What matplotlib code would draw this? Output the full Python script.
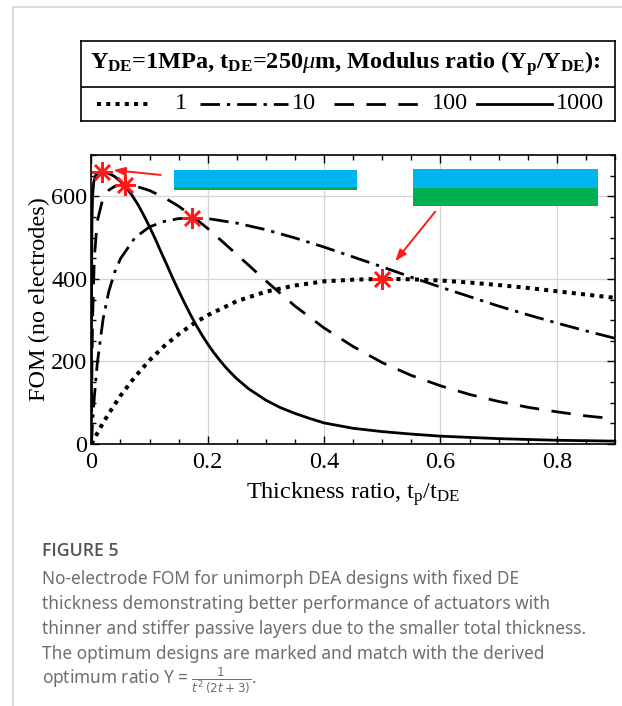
import matplotlib
matplotlib.use("Agg")
import matplotlib.pyplot as plt
from matplotlib.patches import Rectangle
from matplotlib.lines import Line2D
from matplotlib.ticker import MultipleLocator

plt.rcParams['font.family'] = ['Liberation Serif', 'DejaVu Serif']
plt.rcParams['mathtext.fontset'] = 'custom'
plt.rcParams['mathtext.rm'] = 'Liberation Serif'
plt.rcParams['mathtext.it'] = 'Liberation Serif:italic'
plt.rcParams['mathtext.bf'] = 'Liberation Serif:bold'

# FOM (no electrodes) vs thickness ratio t_p/t_DE
t_r1 = [0, 0.01, 0.02, 0.035, 0.05, 0.075, 0.1, 0.125, 0.15, 0.175, 0.2, 0.25, 0.3, 0.35, 0.4,
        0.45, 0.5, 0.55, 0.6, 0.65, 0.7, 0.75, 0.8, 0.85, 0.9]
fom_r1 = [0, 26, 51, 85, 117, 163, 203, 237, 266, 291, 312, 346, 369, 384, 394,
          398, 400, 399, 396, 391, 385, 378, 370, 362, 354]

t_r10 = [0, 0.002, 0.005, 0.01, 0.02, 0.03, 0.04, 0.05, 0.075, 0.1, 0.125, 0.15, 0.175, 0.2,
         0.25, 0.3, 0.35, 0.4, 0.45, 0.5, 0.55, 0.6, 0.65, 0.7, 0.75, 0.8, 0.85, 0.9]
fom_r10 = [0, 50, 113, 194, 302, 370, 416, 449, 500, 526, 539, 546, 547, 546,
           535, 519, 499, 477, 453, 429, 404, 380, 357, 334, 313, 293, 274, 256]

t_r100 = [0, 0.001, 0.002, 0.005, 0.01, 0.02, 0.03, 0.04, 0.05, 0.06, 0.075, 0.1, 0.125, 0.15,
          0.175, 0.2, 0.25, 0.3, 0.35, 0.4, 0.45, 0.5, 0.55, 0.6, 0.65, 0.7, 0.75, 0.8, 0.85, 0.9]
fom_r100 = [0, 193, 300, 450, 539, 596, 615, 624, 627, 627, 625, 614, 597, 576,
            550, 522, 459, 395, 334, 281, 236, 197, 166, 141, 120, 103, 89, 78, 68, 61]

t_r1000 = [0, 0.0002, 0.0005, 0.001, 0.002, 0.004, 0.007, 0.01, 0.015, 0.02, 0.03, 0.04, 0.05,
           0.06, 0.07, 0.08, 0.09, 0.1, 0.11, 0.12, 0.13, 0.14, 0.15, 0.16, 0.17, 0.18, 0.19,
           0.2, 0.21, 0.22, 0.23, 0.24, 0.25, 0.27, 0.3, 0.325, 0.35, 0.375, 0.4, 0.45, 0.5,
           0.55, 0.6, 0.65, 0.7, 0.75, 0.8, 0.85, 0.9]
fom_r1000 = [0, 300, 450, 540, 600, 634, 650, 655, 659, 659, 655, 648, 636,
             621, 602, 580, 554, 526, 496, 464, 433, 401, 371, 342, 314, 288, 264,
             242, 222, 204, 187, 172, 158, 134, 106, 88, 74, 62, 51, 38, 30,
             24, 19, 16, 13, 11, 9, 8, 7]

# optimum designs (red stars)
opt_t = [0.5, 0.173, 0.057, 0.0175]
opt_fom = [400, 547, 627, 660]

ratio_labels = ['1', '10', '100', '1000']

styles = [
    dict(color='k', lw=2.9, ls=(0, (1, 1.3)), dash_capstyle='butt'),
    dict(color='k', lw=2.0, ls=(0, (7, 2.5, 1.2, 2.5))),
    dict(color='k', lw=2.0, ls=(0, (7, 4.5))),
    dict(color='k', lw=2.0, ls='-'),
]

fig = plt.figure(figsize=(6.22, 7.06), dpi=100)

ax = fig.add_axes([91.4 / 622, 1 - 444 / 706, 523.6 / 622, 289 / 706])
for t, f, st in zip([t_r1, t_r10, t_r100, t_r1000], [fom_r1, fom_r10, fom_r100, fom_r1000], styles):
    ax.plot(t, f, **st)

ax.plot(opt_t, opt_fom, ls='none', marker=(8, 2, 0), ms=15, mew=1.8, color='#ff1a1a', zorder=5)

# layer sketches
ax.add_patch(Rectangle((0.142, 622), 0.314, 41, color='#00b4ef', zorder=4, lw=0))
ax.add_patch(Rectangle((0.142, 614.5), 0.314, 7.5, color='#00b050', zorder=4, lw=0))
ax.add_patch(Rectangle((0.5536, 621), 0.318, 46, color='#00b4ef', zorder=4, lw=0))
ax.add_patch(Rectangle((0.5536, 576), 0.318, 45, color='#00b050', zorder=4, lw=0))

ax.annotate('', xy=(0.033, 664), xytext=(0.124, 651),
            arrowprops=dict(arrowstyle='-|>,head_length=0.7,head_width=0.25', color='#ff1a1a', lw=1.4))
ax.annotate('', xy=(0.519, 437), xytext=(0.594, 568),
            arrowprops=dict(arrowstyle='-|>,head_length=0.7,head_width=0.25', color='#ff1a1a', lw=1.4))

ax.set_xlim(0, 0.9)
ax.set_ylim(0, 700)
ax.xaxis.set_major_locator(MultipleLocator(0.2))
ax.xaxis.set_minor_locator(MultipleLocator(0.05))
ax.yaxis.set_major_locator(MultipleLocator(200))
ax.yaxis.set_minor_locator(MultipleLocator(50))
ax.set_xticks([0, 0.2, 0.4, 0.6, 0.8])
ax.set_xticklabels(['0', '0.2', '0.4', '0.6', '0.8'])
ax.grid(True, which='major', color='#d4d4d4', lw=0.9)
ax.set_axisbelow(True)
ax.tick_params(which='both', direction='in', top=True, right=True, labelsize=17.5, width=1)
ax.tick_params(axis='x', pad=6)
ax.tick_params(axis='y', pad=3)
ax.tick_params(which='major', length=6)
ax.tick_params(which='minor', length=3.5)
for sp in ax.spines.values():
    sp.set_linewidth(1.2)
ax.set_xlabel(r'Thickness ratio, t$_\mathregular{p}$/t$_\mathregular{DE}$', fontsize=17.5, labelpad=5)
ax.set_ylabel('FOM (no electrodes)', fontsize=17.5, labelpad=1)

# legend box
lax = fig.add_axes([80.7 / 622, 1 - 120.7 / 706, 534.3 / 622, 79.7 / 706])
lax.set_xlim(0, 1)
lax.set_ylim(0, 1)
lax.set_xticks([])
lax.set_yticks([])
for sp in lax.spines.values():
    sp.set_linewidth(1.2)
lax.axhline(0.427, color='k', lw=1.2)
lax.text(0.495, 0.714,
         r'Y$_\mathbf{DE}$=1MPa, t$_\mathbf{DE}$=250$\mu$m, Modulus ratio (Y$_\mathbf{p}$/Y$_\mathbf{DE}$):',
         ha='center', va='center', fontsize=17.5, fontweight='bold')
seg = [(0.03, 0.128, 0.176), (0.223, 0.388, 0.395), (0.474, 0.652, 0.658), (0.742, 0.882, 0.889)]
for (x0, x1, xt), st, lab in zip(seg, styles, ratio_labels):
    lax.plot([x0, x1], [0.213, 0.213], **st)
    lax.text(xt, 0.213, lab, ha='left', va='center', fontsize=17.5)

# page frame
fig.add_artist(Line2D([12.7 / 622, 12.7 / 622], [0, 1 - 6.7 / 706], transform=fig.transFigure,
                      color='#d6d6d6', lw=1.3))
fig.add_artist(Line2D([12.7 / 622, 1], [1 - 6.7 / 706, 1 - 6.7 / 706], transform=fig.transFigure,
                      color='#d6d6d6', lw=1.3))

# caption
fig.text(42 / 622, 1 - 556 / 706, 'FIGURE 5', family='Open Sans', fontweight='semibold',
         fontsize=12.8, color='#555555', va='baseline')
caption = [
    'No-electrode FOM for unimorph DEA designs with fixed DE',
    'thickness demonstrating better performance of actuators with',
    'thinner and stiffer passive layers due to the smaller total thickness.',
    'The optimum designs are marked and match with the derived',
    r'optimum ratio Y = $\frac{1}{t^2\,(2t+3)}$.',
]
for i, line in enumerate(caption):
    fig.text(42 / 622, 1 - (584 + 25 * i) / 706, line, family='Noto Sans', fontsize=12.4,
             color='#6e6e6e', va='baseline', math_fontfamily='dejavusans')

fig.savefig('out.png', dpi=100)
